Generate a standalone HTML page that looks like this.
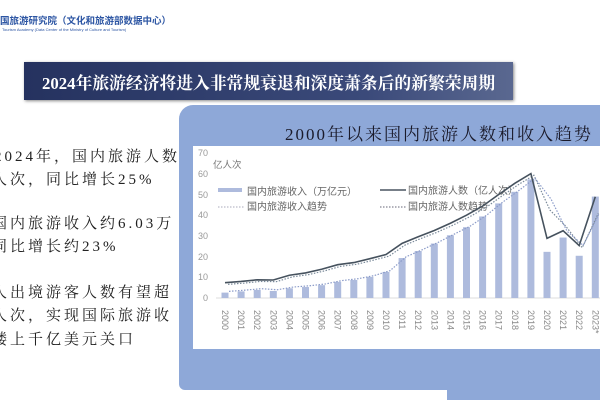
<!DOCTYPE html>
<html><head><meta charset="utf-8"><style>
body{margin:0;width:600px;height:400px;overflow:hidden;background:#fff;position:relative;font-family:"Liberation Serif","Noto Serif CJK SC",serif}
.t{position:absolute;font-size:15px;color:#222;white-space:nowrap;left:-8px;letter-spacing:3px}
</style></head><body>
<div style="position:absolute;left:0;top:13px;font-family:'Noto Sans CJK SC',sans-serif;font-size:9.5px;color:#2c55a3;font-weight:bold">国旅游研究院（文化和旅游部数据中心）</div>
<div style="position:absolute;left:2px;top:27px;font-family:'Liberation Sans',sans-serif;font-size:4px;color:#2c55a3">Tourism Academy (Data Center of the Ministry of Culture and Tourism)</div>
<div style="position:absolute;left:24px;top:62px;width:489px;height:38px;background:linear-gradient(90deg,#25325f,#3b4a7a 70%,#5a6890);box-shadow:1px 1px 3px #888"></div>
<div style="position:absolute;left:42px;top:70px;font-size:16.8px;font-weight:bold;color:#fff;font-family:'Liberation Serif','Noto Serif CJK SC',serif;white-space:nowrap">2024年旅游经济将进入非常规衰退和深度萧条后的新繁荣周期</div>
<div class="t" style="top:145px;left:-6px">2024年，国内旅游人数</div>
<div class="t" style="top:168px">人次，同比增长25%</div>
<div class="t" style="top:212px">国内旅游收入约6.03万</div>
<div class="t" style="top:235px">同比增长约23%</div>
<div class="t" style="top:281px">人出境游客人数有望超</div>
<div class="t" style="top:304px">人次，实现国际旅游收</div>
<div class="t" style="top:328px">楼上千亿美元关口</div>
<div style="position:absolute;left:179px;top:105px;width:430px;height:285px;background:#8ea8d8;border-radius:14px 0 0 6px"></div>
<div style="position:absolute;left:447px;top:380px;width:160px;height:20px;background:#8ea8d8"></div>
<div style="position:absolute;left:285px;top:120px;font-size:17px;color:#1a1a2a;letter-spacing:2px;white-space:nowrap">2000年以来国内旅游人数和收入趋势</div>
<svg style="position:absolute;left:0;top:0" width="600" height="400">
<rect x="193" y="146" width="410" height="203" fill="#fff"/>
<g font-family="Liberation Sans,sans-serif" font-size="9" fill="#999">
<text x="198" y="156">70</text><text x="198" y="177">60</text><text x="198" y="198">50</text><text x="198" y="218">40</text><text x="198" y="239">30</text><text x="198" y="260">20</text><text x="198" y="280">10</text><text x="203" y="301">0</text>
</g>
<text x="213" y="168" font-family="Noto Sans CJK SC,sans-serif" font-size="9.5" fill="#777">亿人次</text>
<line x1="216" y1="298" x2="603" y2="298" stroke="#ddd"/>
<g font-family="Noto Sans CJK SC,sans-serif" font-size="10" fill="#666">
<rect x="218" y="188" width="24" height="4" fill="#aebbdd"/><text x="247" y="195">国内旅游收入（万亿元）</text>
<line x1="218" y1="207" x2="244" y2="207" stroke="#aab" stroke-dasharray="1.5,1.5"/><text x="247" y="210">国内旅游收入趋势</text>
<line x1="380" y1="190" x2="406" y2="190" stroke="#4a5560" stroke-width="1.5"/><text x="408" y="194">国内旅游人数（亿人次）</text>
<line x1="380" y1="207" x2="406" y2="207" stroke="#667" stroke-dasharray="1.5,1.5"/><text x="408" y="210">国内旅游人数趋势</text>
</g>
<g id="rest"></g>
</svg>
<script>
var p=[7.4,8.0,8.8,8.7,11.0,12.1,13.9,16.1,17.1,19.0,21.0,26.4,29.6,32.6,36.1,40.0,44.4,50.0,55.4,60.1,28.8,32.5,25.3,48.9];
var r=[2.6,3.2,3.9,3.4,4.7,5.3,6.2,7.8,8.7,10.2,12.6,19.3,22.7,26.3,30.3,34.2,39.4,45.7,51.3,57.3,22.3,29.2,20.4,49];
var X=i=>225+i*16.1,Y=v=>298-v*2.07,s='';
r.forEach((v,i)=>{s+='<rect x="'+(X(i)-3.5)+'" y="'+Y(v)+'" width="7" height="'+(298-Y(v))+'" fill="#aebbdd"/>';});
function path(a,dx,dy){return a.map((v,i)=>(i?'L':'M')+(X(i)+dx)+','+(Y(v)+dy)).join(' ');}
var pt=p.map((v,i)=>i>19?[(p[19]+v)/2-2,v+2,v-1,v-8][i-20]:v-0.8);
var rt=r.map((v,i)=>i>19?[(r[19]+v)/2+8,v+3,v+5,v-8][i-20]:v+0.6);
s+='<path d="'+path(pt,3,0)+'" fill="none" stroke="#7a8a9a" stroke-width="1.2" stroke-dasharray="1.5,1.5"/>';
s+='<path d="'+path(rt,4,0)+'" fill="none" stroke="#8a9ac8" stroke-width="1.2" stroke-dasharray="1.5,1.5"/>';
s+='<path d="'+path(p,0,0)+'" fill="none" stroke="#46525e" stroke-width="1.6"/>';
for(var i=0;i<24;i++){s+='<text transform="translate('+(X(i)-3)+',310) rotate(90)" font-family="Liberation Sans,sans-serif" font-size="9" fill="#888">'+(2000+i)+(i==23?'*':'')+'</text>';}
document.getElementById('rest').innerHTML=s;
</script>
</body></html>
